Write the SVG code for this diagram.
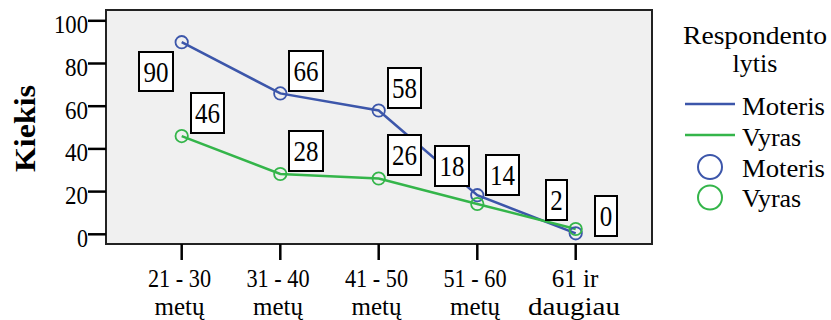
<svg xmlns="http://www.w3.org/2000/svg" width="831" height="320" viewBox="0 0 831 320">
<style>
text{font-family:"Liberation Serif","DejaVu Serif",serif;fill:#000}
.tick{stroke:#000;stroke-width:2.5}
.ylab{font-size:26px;text-anchor:end}
.xlab{font-size:25px;text-anchor:middle}
.box rect{fill:#fff;stroke:#000;stroke-width:2}
.box text{font-size:29px;text-anchor:middle}
.mot{stroke:#3c56aa;fill:none;stroke-width:2.5}
.vyr{stroke:#34b54a;fill:none;stroke-width:2.5}
.mc{stroke:#3c56aa;fill:none;stroke-width:1.8}
.vc{stroke:#34b54a;fill:none;stroke-width:1.8}
.leg{font-size:26px}
</style>
<rect width="831" height="320" fill="#fff"/>
<g id="plot-area">
<rect x="106" y="10" width="546" height="234" fill="#f0f0f0" stroke="#222" stroke-width="2"/>
</g>
<g id="y-axis">
<line class="tick" x1="88" y1="20.8" x2="106" y2="20.8"/>
<line class="tick" x1="88" y1="63.5" x2="106" y2="63.5"/>
<line class="tick" x1="88" y1="106.2" x2="106" y2="106.2"/>
<line class="tick" x1="88" y1="148.9" x2="106" y2="148.9"/>
<line class="tick" x1="88" y1="191.6" x2="106" y2="191.6"/>
<line class="tick" x1="88" y1="234.3" x2="106" y2="234.3"/>
<text class="ylab" font-family="Liberation Serif, DejaVu Serif, serif" x="88" y="33" textLength="34" lengthAdjust="spacingAndGlyphs">100</text>
<text class="ylab" font-family="Liberation Serif, DejaVu Serif, serif" x="88" y="76" textLength="23" lengthAdjust="spacingAndGlyphs">80</text>
<text class="ylab" font-family="Liberation Serif, DejaVu Serif, serif" x="88" y="118.7" textLength="23" lengthAdjust="spacingAndGlyphs">60</text>
<text class="ylab" font-family="Liberation Serif, DejaVu Serif, serif" x="88" y="161.4" textLength="23" lengthAdjust="spacingAndGlyphs">40</text>
<text class="ylab" font-family="Liberation Serif, DejaVu Serif, serif" x="88" y="204.1" textLength="23" lengthAdjust="spacingAndGlyphs">20</text>
<text class="ylab" font-family="Liberation Serif, DejaVu Serif, serif" x="88" y="246.8" textLength="11" lengthAdjust="spacingAndGlyphs">0</text>
<text x="0" y="0" transform="translate(35,128.5) rotate(-90)" font-size="30" font-weight="bold" text-anchor="middle" textLength="87" lengthAdjust="spacingAndGlyphs">Kiekis</text>
</g>
<g id="x-axis">
<line class="tick" x1="181.7" y1="244" x2="181.7" y2="260"/>
<line class="tick" x1="280.3" y1="244" x2="280.3" y2="260"/>
<line class="tick" x1="378.7" y1="244" x2="378.7" y2="260"/>
<line class="tick" x1="477.3" y1="244" x2="477.3" y2="260"/>
<line class="tick" x1="575.7" y1="244" x2="575.7" y2="260"/>
<text class="xlab" x="179.5" y="287" textLength="63" lengthAdjust="spacingAndGlyphs">21 - 30</text>
<text class="xlab" x="179.5" y="315">metų</text>
<text class="xlab" x="278" y="287" textLength="63" lengthAdjust="spacingAndGlyphs">31 - 40</text>
<text class="xlab" x="278" y="315">metų</text>
<text class="xlab" x="376.5" y="287" textLength="63" lengthAdjust="spacingAndGlyphs">41 - 50</text>
<text class="xlab" x="376.5" y="315">metų</text>
<text class="xlab" x="475" y="287" textLength="63" lengthAdjust="spacingAndGlyphs">51 - 60</text>
<text class="xlab" x="475" y="315">metų</text>
<text class="xlab" x="575" y="287">61 ir</text>
<text class="xlab" x="574" y="315" textLength="92" lengthAdjust="spacingAndGlyphs">daugiau</text>
</g>
<g id="connectors">
<polyline class="mot" points="181.7,42.2 280.3,93.4 378.7,110.5 477.3,195.2 575.7,233.3"/>
<polyline class="vyr" points="181.7,136.1 280.3,174 378.7,178.5 477.3,204 575.7,229"/>
</g>
<g id="series-moteris">
<circle class="mc" cx="181.7" cy="42.2" r="6.2"/>
<circle class="mc" cx="280.3" cy="93.4" r="6.2"/>
<circle class="mc" cx="378.7" cy="110.5" r="6.2"/>
<circle class="mc" cx="477.3" cy="195.2" r="6.2"/>
<circle class="mc" cx="575.7" cy="233.3" r="6.2"/>
</g>
<g id="series-vyras">
<circle class="vc" cx="181.7" cy="136.1" r="6.2"/>
<circle class="vc" cx="280.3" cy="174" r="6.2"/>
<circle class="vc" cx="378.7" cy="178.5" r="6.2"/>
<circle class="vc" cx="477.3" cy="204" r="6.2"/>
<circle class="vc" cx="575.7" cy="229" r="6.2"/>
</g>
<g id="label-90" class="box"><rect x="139" y="52" width="34" height="39"/><text x="156" y="81.5" textLength="25" lengthAdjust="spacingAndGlyphs">90</text></g>
<g id="label-66" class="box"><rect x="289" y="51" width="34" height="40"/><text x="306" y="81" textLength="25" lengthAdjust="spacingAndGlyphs">66</text></g>
<g id="label-58" class="box"><rect x="388" y="68" width="33" height="40"/><text x="404.5" y="98" textLength="25" lengthAdjust="spacingAndGlyphs">58</text></g>
<g id="label-46" class="box"><rect x="191" y="93" width="33" height="40"/><text x="207.5" y="123" textLength="25" lengthAdjust="spacingAndGlyphs">46</text></g>
<g id="label-28" class="box"><rect x="289" y="131" width="34" height="40"/><text x="306" y="161" textLength="25" lengthAdjust="spacingAndGlyphs">28</text></g>
<g id="label-26" class="box"><rect x="388" y="135" width="33" height="40"/><text x="404.5" y="165" textLength="25" lengthAdjust="spacingAndGlyphs">26</text></g>
<g id="label-18" class="box"><rect x="435" y="146" width="34" height="40"/><text x="452" y="176" textLength="25" lengthAdjust="spacingAndGlyphs">18</text></g>
<g id="label-14" class="box"><rect x="486" y="155" width="33" height="40"/><text x="502.5" y="185" textLength="25" lengthAdjust="spacingAndGlyphs">14</text></g>
<g id="label-2" class="box"><rect x="546" y="180" width="21" height="40"/><text x="556.5" y="210" textLength="12.5" lengthAdjust="spacingAndGlyphs">2</text></g>
<g id="label-0" class="box"><rect x="595" y="196" width="22" height="40"/><text x="606" y="226" textLength="12.5" lengthAdjust="spacingAndGlyphs">0</text></g>
<g id="legend">
<text class="leg" x="755" y="44" text-anchor="middle" textLength="144" lengthAdjust="spacingAndGlyphs">Respondento</text>
<text class="leg" x="755" y="72" text-anchor="middle">lytis</text>
<line class="mot" x1="685" y1="104" x2="735" y2="104"/>
<text class="leg" x="742" y="115" textLength="83" lengthAdjust="spacingAndGlyphs">Moteris</text>
<line class="vyr" x1="685" y1="135" x2="735" y2="135"/>
<text class="leg" x="742" y="145.5">Vyras</text>
<circle cx="710" cy="167" r="12" stroke="#3c56aa" stroke-width="2" fill="none"/>
<text class="leg" x="742" y="176.5" textLength="83" lengthAdjust="spacingAndGlyphs">Moteris</text>
<circle cx="710" cy="197.5" r="12" stroke="#34b54a" stroke-width="2" fill="none"/>
<text class="leg" x="742" y="207">Vyras</text>
</g>
</svg>
